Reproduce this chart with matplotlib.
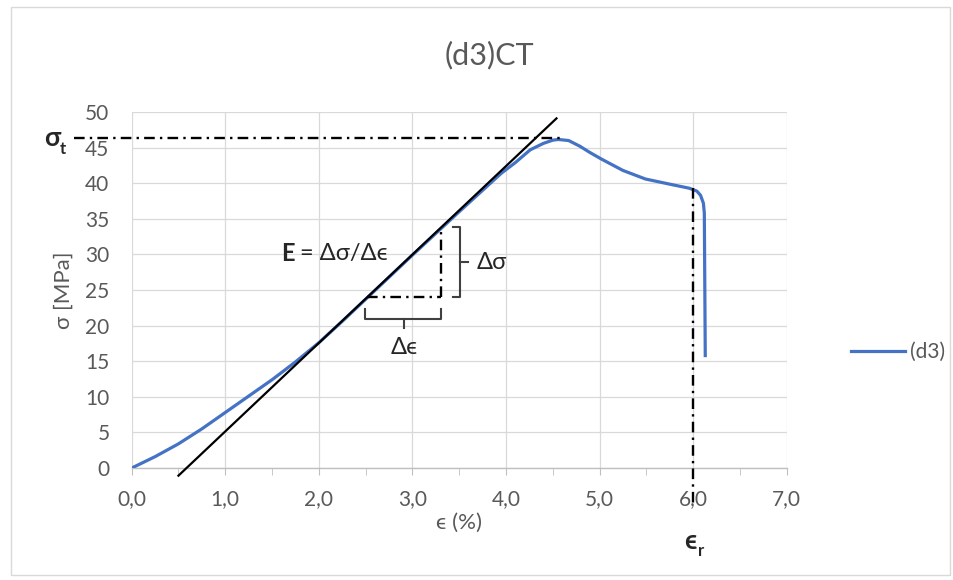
import matplotlib
matplotlib.use("Agg")
import matplotlib.pyplot as plt
from matplotlib.patches import Rectangle

plt.rcParams['font.family'] = ['Lato', 'DejaVu Sans']

# measured curve (d3)
strain = [0.0, 0.25, 0.5, 0.75, 1.0, 1.25, 1.5, 1.75, 2.0, 2.25, 2.5, 3.0, 3.5,
          3.75, 3.95, 4.1, 4.26, 4.4, 4.5, 4.56, 4.67, 4.79, 4.9, 5.02, 5.25,
          5.49, 5.74, 5.96, 6.04, 6.08, 6.11, 6.12, 6.13]
stress = [0.0, 1.6, 3.4, 5.5, 7.8, 10.1, 12.4, 14.9, 17.6, 20.6, 23.7, 29.9, 36.0,
          39.0, 41.4, 42.9, 44.7, 45.6, 46.05, 46.15, 46.0, 45.2, 44.3, 43.4, 41.8,
          40.6, 39.9, 39.3, 38.9, 38.3, 37.2, 35.8, 15.8]

# tangent (E)
tan_x0 = 0.586      # strain where tangent crosses 0
tan_slope = 12.42
tan_start, tan_end = 0.5, 4.54

sigma_t = 46.3      # tensile strength marker
eps_r = 6.0         # strain at rupture
sigma_r = 39.3

tri_low = 24.0      # lower stress of the slope triangle
tri_right = 3.31    # right strain of the slope triangle

xticks = [0, 1, 2, 3, 4, 5, 6, 7]
xlabels = ['0,0', '1,0', '2,0', '3,0', '4,0', '5,0', '6,0', '7,0']
yticks = list(range(0, 55, 5))

gray = '#595959'
dark = '#262626'


def tangent(x):
    return tan_slope * (x - tan_x0)


fig = plt.figure(figsize=(9.54, 5.8), dpi=100)
fig.patches.append(Rectangle((0.012, 0.008), 0.984, 0.98, transform=fig.transFigure,
                             fill=False, edgecolor='#d9d9d9', lw=1))
ax = fig.add_axes([0.138, 0.193, 0.6866, 0.6138])

ax.plot(strain, stress, color='#4472C4', lw=2.3, label='(d3)', zorder=3,
        solid_joinstyle='round')
ax.plot([tan_start, tan_end], [tangent(tan_start), tangent(tan_end)],
        color='black', lw=1.6, zorder=4, clip_on=False)

dd = dict(color='black', lw=1.7, zorder=5, clip_on=False, dashes=(4.5, 2.2, 1, 2.2))
ax.plot([-0.62, 4.6], [sigma_t, sigma_t], **dd)
ax.plot([eps_r, eps_r], [sigma_r, -5.5], **dd)
tri_left = tri_low / tan_slope + tan_x0
ax.plot([tri_left, tri_right], [tri_low, tri_low], **dd)
ax.plot([tri_right, tri_right], [tri_low, tangent(tri_right)], **dd)

# brackets
bk = dict(color='#404040', lw=1.5, zorder=5)
top = tangent(tri_right)
mid = (top + tri_low) / 2
ax.plot([3.43, 3.51, 3.51, 3.43], [top, top, tri_low, tri_low], **bk)
ax.plot([3.51, 3.59], [mid, mid], **bk)
ax.plot([tri_left - 0.02, tri_left - 0.02, tri_right, tri_right],
        [22.4, 21.0, 21.0, 22.4], **bk)
ax.plot([(tri_left + tri_right) / 2] * 2, [21.0, 19.7], **bk)

fs_ann = 17
ax.text(3.69, mid, 'Δσ', fontsize=fs_ann, color=dark, va='center', ha='left')
ax.text((tri_left + tri_right) / 2, 16.9, 'Δϵ', fontsize=fs_ann, color=dark,
        va='center', ha='center')
ax.text(1.6, 30.2, 'E', fontsize=fs_ann, weight='bold', color=dark, va='center', ha='left')
ax.text(1.8, 30.2, '= Δσ/Δϵ', fontsize=fs_ann, color=dark, va='center', ha='left')

ax.text(-0.94, sigma_t, 'σ', fontsize=19, weight='bold', color=dark, va='center',
        ha='left', clip_on=False)
ax.text(-0.77, sigma_t - 1.5, 't', fontsize=12, weight='bold', color=dark, va='center',
        ha='left', clip_on=False)
ax.text(eps_r - 0.03, -10.3, 'ϵ', fontsize=19, weight='bold', color=dark, va='center',
        ha='center', clip_on=False)
ax.text(eps_r + 0.085, -11.6, 'r', fontsize=12, weight='bold', color=dark, va='center',
        ha='center', clip_on=False)

ax.set_xlim(0, 7)
ax.set_ylim(0, 50)
ax.set_xticks(xticks)
ax.set_xticklabels(xlabels)
ax.set_xticks([x + 0.5 for x in xticks[:-1]], minor=True)
ax.set_yticks(yticks)
ax.grid(True, color='#d9d9d9', lw=0.9)
ax.set_axisbelow(True)
for s in ['top', 'right', 'left']:
    ax.spines[s].set_visible(False)
ax.spines['bottom'].set_color('#bfbfbf')
ax.spines['bottom'].set_linewidth(1.0)
ax.tick_params(axis='x', which='both', direction='out', length=5, color='#bfbfbf',
               labelcolor=gray, labelsize=15, pad=10)
ax.tick_params(axis='y', length=0, labelcolor=gray, labelsize=15, pad=16)

ax.set_xlabel('ϵ (%)', fontsize=16, color=gray, labelpad=3)
ax.set_ylabel('σ [MPa]', fontsize=16, color=gray, labelpad=8)
fig.text(0.513, 0.905, '(d3)CT', fontsize=22, color=gray, ha='center', va='center')

fig.legend(loc='center left', bbox_to_anchor=(0.872, 0.393), frameon=False,
           handlelength=2.6, handletextpad=0.25, fontsize=15, labelcolor=gray)

fig.savefig('out.png', dpi=100)
